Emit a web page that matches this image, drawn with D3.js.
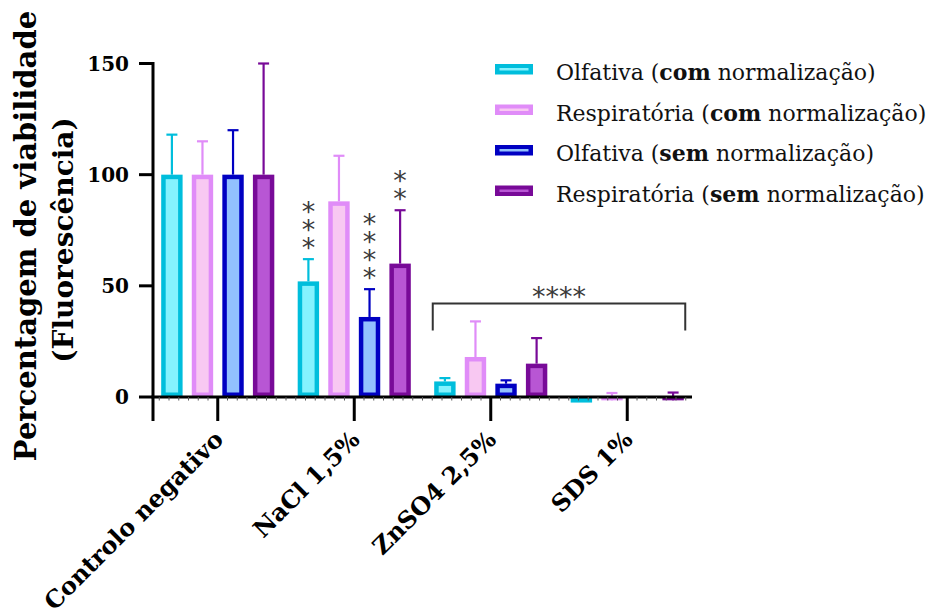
<!DOCTYPE html>
<html>
<head>
<meta charset="utf-8">
<script src="https://cdn.jsdelivr.net/npm/d3@7/dist/d3.min.js"></script>
<style>
  html, body { margin: 0; padding: 0; background: #fff; }
  svg { display: block; }
  text { font-family: "DejaVu Serif", serif; }
</style>
</head>
<body>
<svg id="chart" width="932" height="610"></svg>
<script>
// Treatments on the x axis
const categories = ["Controlo negativo", "NaCl 1,5%", "ZnSO4 2,5%", "SDS 1%"];

// Series (legend order)
const seriesNames = [
  ["Olfativa (", "com", " normalização)"],
  ["Respiratória (", "com", " normalização)"],
  ["Olfativa (", "sem", " normalização)"],
  ["Respiratória (", "sem", " normalização)"]
];

// Mean viability (%) per series, one value per category
const olfativaCom     = [100, 52, 7, -2.5];
const respiratoriaCom = [100, 88, 18, -1.5];
const olfativaSem     = [100, 36, 6, 0];
const respiratoriaSem = [100, 60, 15, -1.5];

// Standard deviation (drawn upwards)
const olfativaComSD     = [18, 10, 1.5, 0];
const respiratoriaComSD = [15, 20.5, 16, 3.3];
const olfativaSemSD     = [20, 12.5, 1.5, 0];
const respiratoriaSemSD = [50, 24, 11.5, 3.5];

// Significance stars above individual bars (NaCl 1,5%)
const starCounts = [
  [0, 0, 0, 0],
  [3, 0, 4, 2],
  [0, 0, 0, 0],
  [0, 0, 0, 0]
];
// Bracket spanning ZnSO4 2,5% and SDS 1%
const bracketLabel = "****";
const bracketFrom = "ZnSO4 2,5%";
const bracketTo = "SDS 1%";
const bracketLevel = 42;

const yTicks = [0, 50, 100, 150];

const means = [olfativaCom, respiratoriaCom, olfativaSem, respiratoriaSem];
const sds = [olfativaComSD, respiratoriaComSD, olfativaSemSD, respiratoriaSemSD];

const strokeColors = ["#00bedc", "#e08cf8", "#0000c2", "#780a98"];
const fillColors   = ["#84f2fe", "#f8c8f2", "#92c0fe", "#b856d4"];

const svg = d3.select("#chart");

const x = d3.scaleBand().domain(categories).range([149.5, 695.5]);
const series = d3.scaleBand().domain(d3.range(4)).range([-59, 59]).paddingInner(0.3).paddingOuter(0.08);
const y = d3.scaleLinear().domain([0, 150]).range([397, 63.5]);

const barW = series.bandwidth();
const sw = 4.5;
const starFont = 27;
const starLift = 0.575 * starFont; // baseline offset to the centre of a "*"

// Bars
const groups = svg.append("g").selectAll("g")
  .data(categories)
  .join("g")
  .attr("transform", c => `translate(${x(c) + x.bandwidth() / 2},0)`);

groups.each(function (c, ci) {
  const g = d3.select(this);
  for (let s = 0; s < 4; s++) {
    const v = means[s][ci];
    const sd = sds[s][ci];
    const bx = series(s);
    const top = y(Math.max(v, 0));
    const bot = y(Math.min(v, 0));
    const h = bot - top;
    if (h > 0.5) {
      g.append("rect").attr("x", bx).attr("y", top).attr("width", barW).attr("height", h)
        .attr("fill", strokeColors[s]);
      if (h > 2 * sw) {
        g.append("rect").attr("x", bx + sw).attr("y", top + sw)
          .attr("width", barW - 2 * sw).attr("height", h - 2 * sw)
          .attr("fill", fillColors[s]);
      }
    }
    if (sd > 0) {
      const cx = bx + barW / 2;
      const ey = y(v + sd);
      g.append("line").attr("x1", cx).attr("x2", cx).attr("y1", y(v)).attr("y2", ey)
        .attr("stroke", strokeColors[s]).attr("stroke-width", 2.2);
      g.append("line").attr("x1", cx - 5.5).attr("x2", cx + 5.5).attr("y1", ey).attr("y2", ey)
        .attr("stroke", strokeColors[s]).attr("stroke-width", 2.2);
    }
    // stacked stars, one text element per bar
    const n = starCounts[ci][s];
    if (n > 0) {
      const cx = bx + barW / 2;
      const t = g.append("text")
        .style("font-family", "'DejaVu Sans', sans-serif")
        .style("font-size", starFont + "px")
        .attr("fill", "#3a3a3a")
        .attr("text-anchor", "middle");
      for (let k = 0; k < n; k++) {
        t.append("tspan")
          .attr("x", cx)
          .attr("y", y(v + sd) - 18 - 18 * k + starLift)
          .text("*");
      }
    }
  }
});

// Axes
const axisColor = "#000";
// y axis
const yAxis = svg.append("g");
yAxis.append("line").attr("x1", 153).attr("x2", 153).attr("y1", y(150) - 1.5).attr("y2", 421)
  .attr("stroke", axisColor).attr("stroke-width", 3);
yAxis.selectAll(".yt").data(yTicks).join("line")
  .attr("x1", 139).attr("x2", 153).attr("y1", d => y(d)).attr("y2", d => y(d))
  .attr("stroke", axisColor).attr("stroke-width", 3);
yAxis.selectAll(".yl").data(yTicks).join("text")
  .attr("x", 129).attr("y", d => y(d) + 7)
  .attr("text-anchor", "end")
  .style("font-size", "20px").style("font-weight", "bold")
  .text(d => d);

// x axis
const xAxis = svg.append("g");
xAxis.append("line").attr("x1", 151.5).attr("x2", 692).attr("y1", y(0)).attr("y2", y(0))
  .attr("stroke", axisColor).attr("stroke-width", 3);
// minor ticks
const minor = [];
categories.forEach(c => {
  for (let k = 0; k < 14; k++) minor.push(x(c) + k * x.bandwidth() / 14);
});
xAxis.selectAll(".mt").data(minor.filter(m => m > 156 && m < 690)).join("line")
  .attr("x1", d => d).attr("x2", d => d).attr("y1", y(0)).attr("y2", y(0) + 3.5)
  .attr("stroke", "#555").attr("stroke-width", 1);
xAxis.selectAll(".xt").data(categories).join("line")
  .attr("x1", c => x(c) + x.bandwidth() / 2).attr("x2", c => x(c) + x.bandwidth() / 2)
  .attr("y1", y(0)).attr("y2", 421)
  .attr("stroke", axisColor).attr("stroke-width", 3);
xAxis.selectAll(".xl").data(categories).join("text")
  .attr("transform", c => `translate(${x(c) + x.bandwidth() / 2 + 7},${441}) rotate(-45)`)
  .attr("text-anchor", "end")
  .style("font-size", "24px").style("font-weight", "bold")
  .text(c => c);

// y title
svg.append("text")
  .attr("transform", "translate(36,236) rotate(-90)")
  .attr("text-anchor", "middle")
  .style("font-size", "29px").style("font-weight", "bold")
  .text("Percentagem de viabilidade");
svg.append("text")
  .attr("transform", "translate(73,240) rotate(-90)")
  .attr("text-anchor", "middle")
  .style("font-size", "28px").style("font-weight", "bold")
  .text("(Fluorescência)");

// Significance bracket
const bx1 = x(bracketFrom) + x.bandwidth() / 2 - 58;
const bx2 = x(bracketTo) + x.bandwidth() / 2 + 58;
const byTop = y(bracketLevel);
svg.append("path")
  .attr("d", `M${bx1},${byTop + 27}V${byTop}H${bx2}V${byTop + 27}`)
  .attr("fill", "none").attr("stroke", "#333").attr("stroke-width", 2);
svg.append("text")
  .attr("x", (bx1 + bx2) / 2).attr("y", byTop - 13 + starLift)
  .attr("text-anchor", "middle")
  .style("font-family", "'DejaVu Sans', sans-serif")
  .style("font-size", starFont + "px")
  .attr("fill", "#3a3a3a")
  .text(bracketLabel);

// Legend
const legend = svg.append("g").selectAll("g")
  .data(seriesNames)
  .join("g")
  .attr("transform", (d, i) => `translate(495,${80 + i * 40.5})`);
legend.append("rect").attr("x", 0).attr("y", -16).attr("width", 38).attr("height", 10.5)
  .attr("fill", (d, i) => strokeColors[i]);
legend.append("rect").attr("x", 4.5).attr("y", -12).attr("width", 29).attr("height", 2.5)
  .attr("fill", (d, i) => fillColors[i]);
const lt = legend.append("text").attr("x", 61).attr("y", 0)
  .style("font-size", "22px").attr("fill", "#111");
lt.append("tspan").text(d => d[0]);
lt.append("tspan").style("font-weight", "bold").text(d => d[1]);
lt.append("tspan").text(d => d[2]);
</script>
</body>
</html>
